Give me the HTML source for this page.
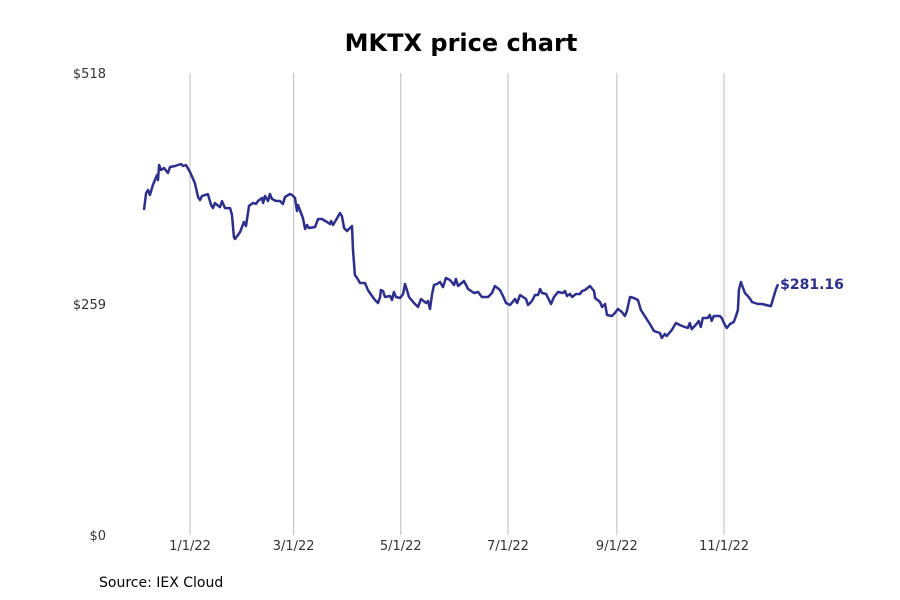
<!DOCTYPE html>
<html><head><meta charset="utf-8"><style>
html,body{margin:0;padding:0;background:#fff;}
svg{display:block;font-family:"DejaVu Sans","Liberation Sans",sans-serif;}
</style></head><body>
<svg id="chart" width="900" height="600" viewBox="0 0 900 600">
<text x="461" y="51" text-anchor="middle" font-size="24" font-weight="bold" fill="#000">MKTX price chart</text>
<g id="grid"></g><g id="yaxis"></g><g id="xaxis"></g><g id="series"></g>
<text x="99" y="587" font-size="14" fill="#000">Source: IEX Cloud</text>
</svg>
<script>
const days=[-26.2,-25,-23.9,-22.8,-21.1,-18.8,-18.2,-17.6,-16.5,-14.8,-12.5,-11.4,-8.5,-5.1,-4,-2.3,0,2.8,4.6,5.7,6.8,10.2,12,13.1,14.2,17.1,18.2,19.9,22.8,23.9,25,25.6,28.5,30.7,31.9,33.6,35.9,37.6,38.7,41,41.6,42.7,44.4,45.5,46.7,49,51.2,52.9,54.1,56.9,58.1,59.8,60.9,61.5,63.2,64.3,65.5,66.6,67.7,71.2,72.9,75.1,78,79.7,80.3,81.4,83.1,85.4,86.5,87.7,89.4,92.2,92.8,93.9,95.1,96.8,99.6,101.3,103.6,105.3,107,108.2,108.7,109.9,111,113.9,115,116.1,117.3,119.6,121.3,122.4,123.5,124.7,127.5,129.8,131.5,134.4,135.5,136.6,137.8,138.9,140.6,142.3,144,145.7,148,150.3,151.4,152.6,156,158.3,161.7,164,166.2,169.7,171.9,173.6,176.5,178.2,179.9,182.2,185,186.2,187.9,191.3,192.4,194.7,196.4,198.1,199.3,200.4,202.7,205.5,207.2,209.5,212.3,213.5,214.6,216.3,217.5,219.7,222,223.2,224.9,227.7,230,230.6,233.4,234.6,236.3,237.4,240.2,241.9,243.6,245.9,247.6,248.7,250.5,252.7,255,256.7,259.6,261.8,264.1,267.5,268.6,270.3,271.4,274.3,276.6,278.8,281.7,283.4,284.5,285.6,287.9,289.6,290.8,291.9,294.7,295.9,297,298.2,301.6,302.7,304.5,305.6,307.4,309.6,310.8,311.9,312.5,313.6,315.9,317.6,319.3,319.9,321.6,323.3,325.6,327.9,330.7,331.9,333.6,334.8];
const prices=[364.4,383.5,386.8,381.2,392.4,403.6,398,414.8,409.3,411.5,405.9,412.6,413.7,416,413.7,414.8,407,394.6,378.9,375.5,380,382.2,369.9,366.5,372.1,367.6,374.4,366.5,366.5,358.7,334.1,331.9,339.7,350.9,346.5,369,372.3,371.2,374.5,377.8,372.2,380.1,374.5,382.3,376.7,374.5,374.5,371.1,379,382.3,381.2,377.8,363.3,370,361,355.4,343.1,347.6,344.2,345.3,354.3,354.3,350.9,348.7,352.1,347.6,353.2,361,357.6,344.2,340.8,346.5,319.6,291.5,288.1,282.5,282.5,274.7,268,263.5,260.1,266.8,274.7,273.5,266.8,268,263.5,272.5,266.8,265.7,270.2,281.4,274.7,266.8,260.1,255.6,264.6,260.1,262.4,253.4,270.2,280.3,281.4,283.7,278,288.1,285.9,280.3,287,279.2,284.8,275.8,271.3,272.5,266.8,266.8,271.3,279.2,274.7,268,260.1,257.9,264.6,260.1,269.1,264.6,257.9,262.4,269.1,269.1,275.8,271.3,270.2,259,266.8,272.5,271.3,273.6,268,270.2,266.8,270.2,270.2,273.6,274.7,279.2,273.6,265.7,261.2,255.6,259,246.7,245.5,248.9,253.4,250,245.5,251.1,266.8,265.7,263.5,252.3,243.3,236.6,228.7,226.5,220.9,225.4,223.1,229.8,237.7,235.4,233.2,232.1,237.7,230.9,235.4,239.9,233.2,243.3,243.3,246.7,240,245.5,245.5,243.3,235.4,232.1,236.6,238.8,245.5,252.3,274.7,283.7,271.3,267.9,263.5,261.2,260.1,259,259,257.9,256.7,264.6,275.8,281.16];
const yTicks=[0,259,518];
const yTickLabels=["$0","$259","$518"];
const xTicks=[0,59,120,181,243,304];
const xTickLabels=["1/1/22","3/1/22","5/1/22","7/1/22","9/1/22","11/1/22"];
const lastLabel="$281.16";

const NS="http://www.w3.org/2000/svg";
const X=d=>190+d*1.7566;
const Y=v=>535-v*(462/518);
function mk(tag,attrs,parent){const e=document.createElementNS(NS,tag);for(const k in attrs)e.setAttribute(k,attrs[k]);parent.appendChild(e);return e;}
const grid=document.getElementById('grid'),ya=document.getElementById('yaxis'),xa=document.getElementById('xaxis'),se=document.getElementById('series');
xTicks.forEach((d,i)=>{
  const l=mk('line',{x1:X(d),x2:X(d),y1:73,y2:535,stroke:'#bbb','stroke-width':1},grid);
  
  
  const t=mk('text',{x:X(d),y:550,'text-anchor':'middle','font-size':13,fill:'#333'},xa);
  t.textContent=xTickLabels[i];
  
  
});
yTicks.forEach((v,i)=>{
  const t=mk('text',{x:106,y:Y(v)+5,'text-anchor':'end','font-size':13,fill:'#333'},ya);
  t.textContent=yTickLabels[i];
  
  
});
const p=mk('path',{d:days.map((d,i)=>(i?'L':'M')+X(d).toFixed(1)+','+Y(prices[i]).toFixed(1)).join(''),fill:'none',stroke:'#2e2e8c','stroke-width':2.5,'stroke-linejoin':'round'},se);


const n=days.length-1;
const lt=mk('text',{x:X(days[n])+2,y:Y(prices[n])+5,'font-size':14,'font-weight':'bold',fill:'#2e2e8c'},se);
lt.textContent=lastLabel;


</script>
</body></html>
